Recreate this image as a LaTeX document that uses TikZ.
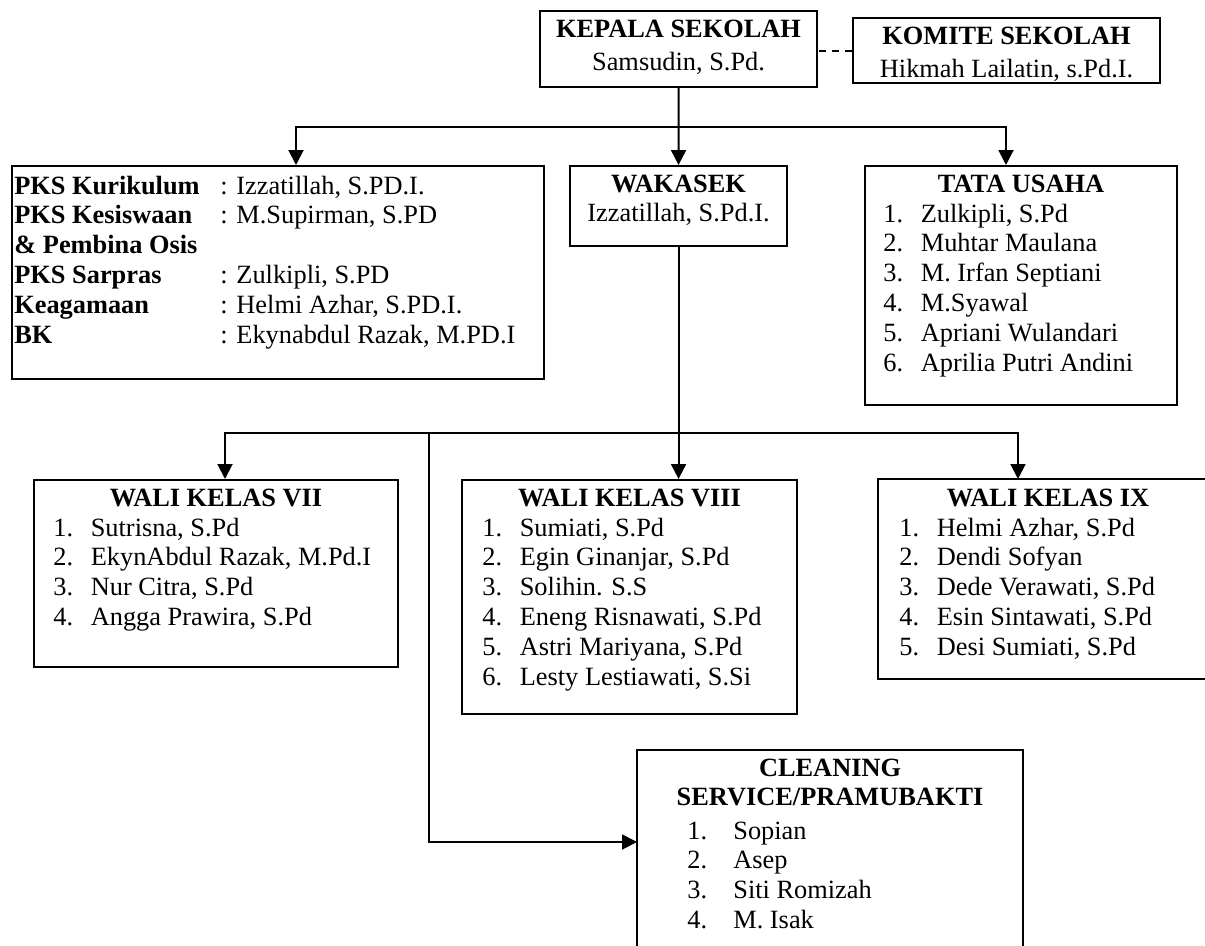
\documentclass[tikz,border=0pt]{standalone}
\usepackage{fontspec}
\setmainfont{Liberation Serif}
\usetikzlibrary{arrows.meta,positioning}

\begin{document}
\begin{tikzpicture}[x=2mm,y=2mm]
\tikzstyle{every node}+=[inner sep=0pt,font=\fontsize{15}{17}\selectfont]
\tikzstyle{box}=[draw,line width=1.2pt,anchor=north west]
\tikzstyle{conn}=[line width=1.1pt]
\tikzstyle{arr}=[conn,-{Triangle[length=3mm,width=3mm]}]
\tikzstyle{arrboth}=[conn,{Triangle[length=3mm,width=3mm]}-{Triangle[length=3mm,width=3mm]}]
\useasboundingbox (0,0) rectangle (120.5,-94.5);
\coordinate (edge) at (120.5,-94.5);
\node [box,minimum width=55.4mm,minimum height=15.2mm] (kepala) at (53.9,-1) {};
\node [box,minimum width=61.4mm,minimum height=13mm] (komite) at (85.2,-1.7) {};
\node [box,minimum width=106.4mm,minimum height=42.6mm] (pks) at (1.1,-16.5) {};
\node [box,minimum width=43.4mm,minimum height=16mm] (wakasek) at (56.9,-16.5) {};
\node [box,minimum width=62.4mm,minimum height=47.8mm] (tata) at (86.4,-16.5) {};
\node [box,minimum width=72.8mm,minimum height=37.4mm] (vii) at (3.3,-47.9) {};
\node [box,minimum width=67mm,minimum height=46.8mm] (viii) at (46.1,-47.9) {};
\node [box,draw=none,minimum width=67.6mm,minimum height=39.6mm] (ix) at (87.8,-47.9) {};
\node [box,draw=none,minimum width=76.8mm,minimum height=39mm] (cs) at (63.7,-75) {};
\draw [line width=1.2pt] (ix.north -| edge) -- (ix.north west) -- (ix.south west) -- (ix.south -| edge);
\draw [line width=1.2pt] (cs.south west) -- (cs.north west) -- (cs.north east) -- (cs.south east);
\node (kepala-t) [below=1.15mm of kepala.north] {\begin{tabular}{@{}c@{}}\textbf{KEPALA SEKOLAH}\\[2pt] Samsudin, S.Pd.\end{tabular}};
\node (komite-t) [below=1.15mm of komite.north] {\begin{tabular}{@{}c@{}}\textbf{KOMITE SEKOLAH}\\[2pt] Hikmah Lailatin, s.Pd.I.\end{tabular}};
\node (pks-t) [below right=1.55mm and 0.6mm of pks.north west] {\begin{tabular}{@{}p{41.2mm}@{}l@{}}
\textbf{PKS Kurikulum} & : Izzatillah, S.PD.I.\\
\textbf{PKS Kesiswaan} & : M.Supirman, S.PD\\
\textbf{\& Pembina Osis} & \\
\textbf{PKS Sarpras} & : Zulkipli, S.PD\\
\textbf{Keagamaan} & : Helmi Azhar, S.PD.I.\\
\textbf{BK} & : Ekynabdul Razak, M.PD.I
\end{tabular}};
\node (wakasek-t) [below=1.15mm of wakasek.north] {\begin{tabular}{@{}c@{}}\textbf{WAKASEK}\\ Izzatillah, S.Pd.I.\end{tabular}};
\node (tata-t) [below=1.15mm of tata.north] {\textbf{\begin{tabular}{@{}c@{}}TATA USAHA\end{tabular}}};
\node (tata-l) [below right=7.15mm and 3.8mm of tata.north west] {\begin{tabular}{@{}p{7.5mm}@{}l@{}}
1. & Zulkipli, S.Pd\\
2. & Muhtar Maulana\\
3. & M. Irfan Septiani\\
4. & M.Syawal\\
5. & Apriani Wulandari\\
6. & Aprilia Putri Andini
\end{tabular}};
\node (vii-t) [below=1.15mm of vii.north] {\textbf{\begin{tabular}{@{}c@{}}WALI KELAS VII\end{tabular}}};
\node (vii-l) [below right=7.15mm and 4mm of vii.north west] {\begin{tabular}{@{}p{7.5mm}@{}l@{}}
1. & Sutrisna, S.Pd\\
2. & EkynAbdul Razak, M.Pd.I\\
3. & Nur Citra, S.Pd\\
4. & Angga Prawira, S.Pd
\end{tabular}};
\node (viii-t) [below=1.15mm of viii.north] {\textbf{\begin{tabular}{@{}c@{}}WALI KELAS VIII\end{tabular}}};
\node (viii-l) [below right=7.15mm and 4.2mm of viii.north west] {\begin{tabular}{@{}p{7.5mm}@{}l@{}}
1. & Sumiati, S.Pd\\
2. & Egin Ginanjar, S.Pd\\
3. & Solihin. S.S\\
4. & Eneng Risnawati, S.Pd\\
5. & Astri Mariyana, S.Pd\\
6. & Lesty Lestiawati, S.Si
\end{tabular}};
\node (ix-t) [below=1.15mm of ix.north] {\textbf{\begin{tabular}{@{}c@{}}WALI KELAS IX\end{tabular}}};
\node (ix-l) [below right=7.15mm and 4.2mm of ix.north west] {\begin{tabular}{@{}p{7.5mm}@{}l@{}}
1. & Helmi Azhar, S.Pd\\
2. & Dendi Sofyan\\
3. & Dede Verawati, S.Pd\\
4. & Esin Sintawati, S.Pd\\
5. & Desi Sumiati, S.Pd
\end{tabular}};
\node (cs-t) [below=0.95mm of cs.north] {\textbf{\begin{tabular}{@{}c@{}}CLEANING\\ SERVICE/PRAMUBAKTI\end{tabular}}};
\node (cs-l) [below right=13.55mm and 10mm of cs.north west] {\begin{tabular}{@{}p{9.2mm}@{}l@{}}
1. & Sopian\\
2. & Asep\\
3. & Siti Romizah\\
4. & M. Isak
\end{tabular}};
\coordinate (tl) at (29.6,-12.7);
\coordinate (tr) at (100.6,-12.7);
\coordinate (bl) at (22.5,-43.3);
\coordinate (br) at (101.8,-43.3);
\coordinate (sl) at (42.9,-43.3);
\coordinate (sb) at (42.9,-84.2);
\draw [conn,dash pattern=on 1.5mm off 1.1mm] (komite.west) -- (komite.west -| kepala.east);
\draw [arr] (kepala.south) -- (wakasek.north);
\draw [arrboth] (tl |- pks.north) -- (tl) -- (tr) -- (tr |- tata.north);
\draw [arr] (wakasek.south) -- (wakasek.south |- viii.north);
\draw [arrboth] (bl |- vii.north) -- (bl) -- (br) -- (br |- ix.north);
\draw [arr] (sl) -- (sb) -- (sb -| cs.west);
\end{tikzpicture}
\end{document}
